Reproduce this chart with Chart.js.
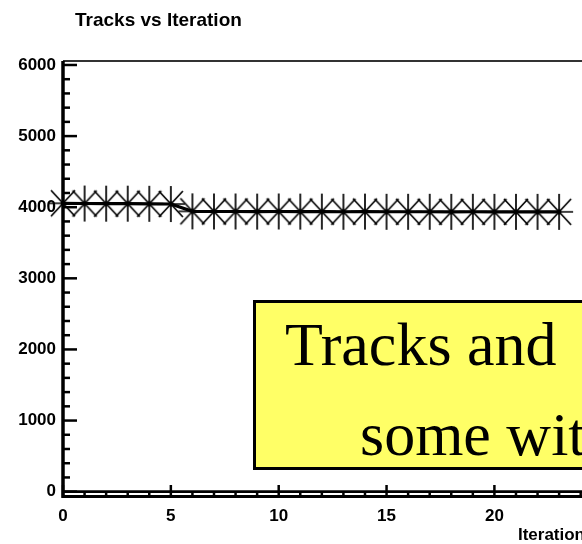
<!DOCTYPE html>
<html>
<head>
<meta charset="utf-8">
<script src="https://cdn.jsdelivr.net/npm/chart.js@4/dist/chart.umd.min.js"></script>
<style>
  html, body { margin: 0; padding: 0; background: #fff; overflow: hidden; width: 582px; height: 544px; }
  #wrap { position: relative; width: 640px; height: 544px; }
</style>
</head>
<body>
<div id="wrap"><canvas id="c" width="640" height="544"></canvas></div>
<script>
// Reconstructed tracks per iteration
const iterations = [0, 1, 2, 3, 4, 5, 6, 7, 8, 9, 10, 11, 12, 13, 14, 15, 16, 17, 18, 19, 20, 21, 22, 23];
const tracks = [4055, 4052, 4050, 4050, 4048, 4045, 3942, 3940, 3940, 3938, 3940, 3938, 3938, 3936, 3938, 3936, 3936, 3936, 3935, 3936, 3935, 3935, 3935, 3935];

const xTickValues = [0, 5, 10, 15, 20];
const yTickValues = [0, 1000, 2000, 3000, 4000, 5000, 6000];

const chartTitle = 'Tracks vs Iteration';
const xAxisTitle = 'Iteration';
const noteLines = ['Tracks and', 'some wit'];

const LABEL_FONT = { family: '"Liberation Sans", Arial, sans-serif', weight: 'bold', size: 17 };

// Asterisk marker: vertical bar, horizontal bar and a wide X
function makeAsterisk() {
  const size = 40, c = size / 2;
  const cv = document.createElement('canvas');
  cv.width = size; cv.height = size;
  const g = cv.getContext('2d');
  g.strokeStyle = '#000';
  g.lineWidth = 1.7;
  g.beginPath();
  g.moveTo(c, c - 18); g.lineTo(c, c + 18);
  g.moveTo(c - 14, c); g.lineTo(c + 14, c);
  g.moveTo(c - 12, c - 13); g.lineTo(c + 12, c + 13);
  g.moveTo(c - 12, c + 13); g.lineTo(c + 12, c - 13);
  g.stroke();
  g.fillStyle = '#000';
  g.beginPath(); g.arc(c, c, 2.4, 0, Math.PI * 2); g.fill();
  return cv;
}
const asterisk = makeAsterisk();

// ROOT-style frame: thick axes with inward major/minor ticks, thin top border
const framePlugin = {
  id: 'frame',
  beforeDatasetsDraw(chart) {
    const { ctx, chartArea: a, scales: { x, y } } = chart;
    ctx.save();
    ctx.lineCap = 'butt';

    // top border
    ctx.strokeStyle = '#333';
    ctx.lineWidth = 2;
    ctx.beginPath(); ctx.moveTo(a.left, a.top); ctx.lineTo(chart.width, a.top); ctx.stroke();

    ctx.strokeStyle = '#000';
    // bottom border
    ctx.lineWidth = 3;
    ctx.beginPath(); ctx.moveTo(a.left, a.bottom - 0.5); ctx.lineTo(chart.width, a.bottom - 0.5); ctx.stroke();
    // zero level line
    const y0 = y.getPixelForValue(0);
    ctx.lineWidth = 2.6;
    ctx.beginPath(); ctx.moveTo(a.left, y0); ctx.lineTo(chart.width, y0); ctx.stroke();

    // x ticks: minor every 1, major every 5
    ctx.lineWidth = 2.5;
    for (let v = 0; v <= x.max; v += 1) {
      const px = x.getPixelForValue(v);
      const len = (v % 5 === 0) ? 12 : 6;
      ctx.beginPath(); ctx.moveTo(px, a.bottom); ctx.lineTo(px, a.bottom - len); ctx.stroke();
    }
    // y ticks: minor every 200, major every 1000
    for (let v = 0; v <= 6000; v += 200) {
      const py = y.getPixelForValue(v);
      const len = (v % 1000 === 0) ? 14 : 7;
      ctx.beginPath(); ctx.moveTo(a.left, py); ctx.lineTo(a.left + len, py); ctx.stroke();
    }
    // y axis line
    ctx.lineWidth = 3.5;
    ctx.beginPath(); ctx.moveTo(a.left, a.top); ctx.lineTo(a.left, a.bottom + 1); ctx.stroke();
    ctx.restore();
  },
  afterDraw(chart) {
    const { ctx, chartArea: a } = chart;
    ctx.save();
    // histogram title
    ctx.fillStyle = '#000';
    ctx.font = 'bold 19px "Liberation Sans", Arial, sans-serif';
    ctx.textAlign = 'left';
    ctx.textBaseline = 'alphabetic';
    ctx.fillText(chartTitle, 75, 26);

    // x axis title, right-aligned at the axis end
    ctx.font = 'bold 17px "Liberation Sans", Arial, sans-serif';
    ctx.textAlign = 'right';
    ctx.fillText(xAxisTitle, a.right, 540);

    // yellow note box
    ctx.fillStyle = '#ffff66';
    ctx.fillRect(253, 300, chart.width - 253, 170);
    ctx.strokeStyle = '#000';
    ctx.lineWidth = 3;
    ctx.strokeRect(254.5, 301.5, chart.width, 167);
    ctx.fillStyle = '#000';
    ctx.font = '62px "Liberation Serif", "Times New Roman", serif';
    ctx.textAlign = 'left';
    ctx.fillText(noteLines[0], 285, 365);
    ctx.fillText(noteLines[1], 360, 455);
    ctx.restore();
  }
};

const points = iterations.map((it, i) => ({ x: it, y: tracks[i] }));

new Chart(document.getElementById('c'), {
  type: 'line',
  data: {
    datasets: [
      {
        label: 'Tracks',
        data: points,
        borderColor: '#000',
        borderWidth: 3.2,
        tension: 0,
        pointStyle: asterisk,
        pointRadius: 20,
        clip: false
      }
    ]
  },
  options: {
    responsive: false,
    animation: false,
    devicePixelRatio: 1,
    layout: { padding: { left: 0, top: 61, right: 55, bottom: 0 } },
    plugins: { legend: { display: false }, tooltip: { enabled: false }, title: { display: false } },
    scales: {
      x: {
        type: 'linear',
        min: 0,
        max: 24.2,
        grid: { display: false, drawTicks: false },
        border: { display: false },
        afterBuildTicks: s => { s.ticks = xTickValues.map(v => ({ value: v })); },
        afterFit: s => { s.height = 47; },
        ticks: { font: LABEL_FONT, color: '#000', padding: 9, maxRotation: 0, autoSkip: false,
                 callback: v => String(v) }
      },
      y: {
        type: 'linear',
        min: -75,
        max: 6056,
        grid: { display: false, drawTicks: false },
        border: { display: false },
        afterBuildTicks: s => { s.ticks = yTickValues.map(v => ({ value: v })); },
        afterFit: s => { s.width = 63; },
        ticks: { font: LABEL_FONT, color: '#000', padding: 7, autoSkip: false,
                 callback: v => String(v) }
      }
    }
  },
  plugins: [framePlugin]
});
</script>
</body>
</html>
